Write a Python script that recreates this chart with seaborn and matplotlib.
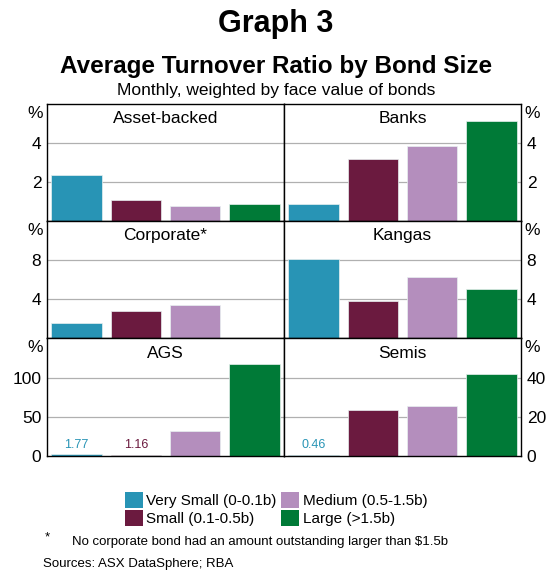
import numpy as np
import pandas as pd
import seaborn as sns
from matplotlib import pyplot as plt
from matplotlib.patches import Patch

sns.set_style("white")
plt.rcParams['font.family'] = ['Liberation Sans', 'DejaVu Sans']
plt.rcParams.update({'text.color': 'black', 'axes.labelcolor': 'black',
                     'xtick.color': 'black', 'ytick.color': 'black'})

sizes = ['Very Small (0-0.1b)', 'Small (0.1-0.5b)', 'Medium (0.5-1.5b)', 'Large (>1.5b)']
colors = ['#2894B5', '#6B1A3F', '#B48EBD', '#007A37']

asset_backed = [2.35, 1.06, 0.78, 0.9]
banks = [0.9, 3.2, 3.87, 5.1]
corporate = [1.55, 2.8, 3.45, np.nan]
kangas = [8.1, 3.8, 6.3, 5.1]
ags = [1.77, 1.16, 31.7, 117]
semis = [0.46, 23.2, 25.3, 41.7]

panels = [
    ('Asset-backed', asset_backed, [2, 4], 6),
    ('Banks', banks, [2, 4], 6),
    ('Corporate*', corporate, [4, 8], 12),
    ('Kangas', kangas, [4, 8], 12),
    ('AGS', ags, [0, 50, 100], 150),
    ('Semis', semis, [0, 20, 40], 60),
]

fig, axes = plt.subplots(3, 2, figsize=(5.52, 5.74), dpi=100)
fig.subplots_adjust(left=0.085, right=0.944, top=0.819, bottom=0.206, hspace=0, wspace=0)

for i, (name, vals, ticks, top) in enumerate(panels):
    ax = axes.flat[i]
    row, col = divmod(i, 2)
    df = pd.DataFrame({'size': sizes, 'value': vals})
    for t in ticks:
        if t > 0:
            ax.axhline(t, color='#b0b0b0', lw=0.9, zorder=0)
    sns.barplot(data=df, x='size', y='value', hue='size', palette=colors, saturation=1,
                width=0.85, legend=False, ax=ax, edgecolor='#e8f0f0', linewidth=0.5,
                zorder=2)
    ax.set_xlim(-0.5, 3.5)
    ax.set_ylim(0, top)
    ax.set_xlabel('')
    ax.set_ylabel('')
    ax.set_xticks([])
    ax.set_yticks(ticks)
    ax.set_yticklabels([str(t) for t in ticks])
    ax.tick_params(axis='y', length=0, labelsize=12.5, pad=4)
    if col == 1:
        ax.yaxis.tick_right()
        ax.text(1.015, 0.92, '%', transform=ax.transAxes, ha='left', va='center', fontsize=12.5)
    else:
        ax.text(-0.015, 0.92, '%', transform=ax.transAxes, ha='right', va='center', fontsize=12.5)
    ax.text(0.5, 0.875, name, transform=ax.transAxes, ha='center', va='center', fontsize=12.5)
    for s in ax.spines.values():
        s.set_color('black')
        s.set_linewidth(1.0)
    if row == 2:
        ax.set_xticks([0.5, 1.5, 2.5], minor=True)
        ax.tick_params(axis='x', which='minor', direction='in', length=4, width=1, color='black')
        for j, v in enumerate(vals):
            if v < 2:
                ax.text(j, v + top * 0.03, f'{v:.2f}', ha='center', va='bottom',
                        fontsize=9, color=colors[j])

fig.text(0.5, 1 - 24 / 574, 'Graph 3', ha='center', va='center', fontsize=22, fontweight='bold')
fig.text(0.5, 1 - 67 / 574, 'Average Turnover Ratio by Bond Size', ha='center', va='center',
         fontsize=17.5, fontweight='bold')
fig.text(0.5, 1 - 90 / 574, 'Monthly, weighted by face value of bonds', ha='center', va='center',
         fontsize=12.5)

handles = [Patch(facecolor=c, edgecolor='none') for c in colors]
fig.legend(handles, sizes, ncol=2, loc='center', bbox_to_anchor=(0.5, 1 - 509 / 574),
           frameon=False, fontsize=11, handlelength=1.2, handleheight=1.2,
           handletextpad=0.2, columnspacing=0.3, labelspacing=0.15, borderpad=0)

fig.text(45 / 552, 1 - 537 / 574, '*', ha='left', va='center', fontsize=9.5)
fig.text(72 / 552, 1 - 542 / 574, 'No corporate bond had an amount outstanding larger than $1.5b',
         ha='left', va='center', fontsize=9.5)
fig.text(43 / 552, 1 - 564 / 574, 'Sources: ASX DataSphere; RBA', ha='left', va='center', fontsize=9.5)

fig.savefig('out.png', dpi=100, facecolor='white')
